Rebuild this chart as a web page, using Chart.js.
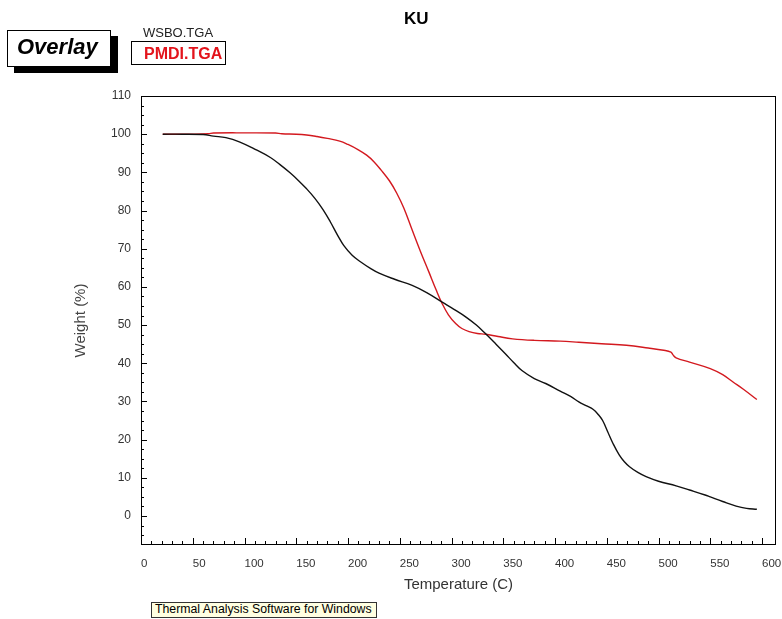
<!DOCTYPE html>
<html>
<head>
<meta charset="utf-8">
<script src="https://cdn.jsdelivr.net/npm/chart.js@4.4.1/dist/chart.umd.min.js"></script>
<style>
  html, body { margin: 0; padding: 0; background: #fff; }
  #wrap { position: relative; width: 782px; height: 619px; overflow: hidden;
          font-family: "Liberation Sans", Arial, sans-serif; }
  #c { position: absolute; left: 0; top: 0; }
  .abs { position: absolute; white-space: nowrap; line-height: 1; }
  #title { left: 404px; top: 10px; font-size: 17px; font-weight: bold; color: #000; }
  #ovBox { left: 7px; top: 30px; width: 104px; height: 37px; box-sizing: border-box;
           border: 1px solid #000; background: #fff; box-shadow: 7px 6px 0 #000; }
  #ovText { left: 17px; top: 36px; font-size: 22px; font-weight: bold; font-style: italic; color: #000; }
  #lgA { left: 143px; top: 25.5px; font-size: 13px; color: #222; }
  #lgBox { left: 131px; top: 41px; width: 95px; height: 24px; box-sizing: border-box;
           border: 1px solid #000; background: #fff; }
  #lgB { left: 144px; top: 46px; font-size: 16px; font-weight: bold; color: #e3141c; }
  #foot { left: 151px; top: 602px; width: 226px; height: 16px; box-sizing: border-box;
          border: 1px solid #333; background: #ffffe1; }
  #footText { left: 155px; top: 602.7px; font-size: 12.3px; color: #000; }
</style>
</head>
<body>
<div id="wrap">
  <canvas id="c" width="782" height="619"></canvas>
  <div class="abs" id="title">KU</div>
  <div class="abs" id="ovBox"></div>
  <div class="abs" id="ovText">Overlay</div>
  <div class="abs" id="lgA">WSBO.TGA</div>
  <div class="abs" id="lgBox"></div>
  <div class="abs" id="lgB">PMDI.TGA</div>
  <div class="abs" id="foot"></div>
  <div class="abs" id="footText">Thermal Analysis Software for Windows</div>
</div>
<script>
// TGA runs: temperature (C) and remaining weight (%)
const wsboTemp = [21, 40, 60, 70, 82, 95, 112, 125, 134, 144, 152, 160, 168, 176, 183, 190, 196, 204, 212, 222,
  230, 245, 262, 276, 291, 302, 314, 324, 333, 343, 352, 360, 368, 380, 391, 405, 415, 423, 430, 437,
  442, 446, 451, 456, 462, 467, 472, 480, 488, 500, 517, 530, 545, 550, 562, 575, 585, 595];
const wsboWeight = [100.0, 100.0, 99.9, 99.5, 99.1, 98.0, 95.8, 93.9, 92.1, 89.9, 87.9, 85.7, 83.2, 80.2, 77.0, 73.5, 70.8, 68.3, 66.6, 64.8,
  63.6, 62.0, 60.4, 58.5, 56.0, 54.2, 52.1, 50.0, 47.7, 45.0, 42.5, 40.2, 38.1, 36.0, 34.7, 32.7, 31.3, 29.9, 28.9, 27.9,
  26.5, 25.0, 22.0, 19.0, 16.0, 14.2, 12.9, 11.4, 10.3, 9.1, 7.9, 6.8, 5.5, 5.0, 3.8, 2.6, 2.0, 1.75];

const pmdiTemp = [21, 50, 65, 70, 100, 130, 136, 150, 160, 170, 180, 192, 200, 210, 218, 225, 232, 240, 247, 254,
  262, 270, 278, 285, 291, 297, 304, 310, 317, 325, 333, 345, 359, 380, 405, 423, 445, 469, 490, 505,
  512, 514, 517, 530, 550, 562, 572, 582, 595];
const pmdiWeight = [100.0, 100.0, 100.1, 100.3, 100.35, 100.3, 100.1, 100.0, 99.8, 99.4, 98.9, 98.2, 97.3, 95.9, 94.5, 92.8, 90.6, 87.8, 84.6, 80.6,
  74.9, 69.3, 64.0, 59.3, 55.6, 52.7, 50.4, 49.1, 48.3, 47.8, 47.6, 47.0, 46.4, 46.0, 45.8, 45.5, 45.1, 44.7, 44.0, 43.4,
  42.9, 42.2, 41.4, 40.3, 38.6, 37.0, 35.1, 33.2, 30.5];

// Labelled tick values
const xTickLabels = [0, 50, 100, 150, 200, 250, 300, 350, 400, 450, 500, 550, 600];
const yTickLabels = [0, 10, 20, 30, 40, 50, 60, 70, 80, 90, 100, 110];

const toPoints = (xs, ys) => xs.map((t, i) => ({ x: t, y: ys[i] }));

// Boxed plot frame with inward major/minor tick marks
const frameTicks = {
  id: 'frameTicks',
  afterDatasetsDraw(chart) {
    const { ctx, chartArea: a, scales: { x, y } } = chart;
    ctx.save();
    ctx.strokeStyle = '#000';
    ctx.lineWidth = 1;
    ctx.beginPath();
    for (let v = 0; v <= 600; v += 10) {
      const px = Math.round(x.getPixelForValue(v)) + 0.5;
      const len = v % 50 === 0 ? 7 : 4;
      ctx.moveTo(px, a.bottom);
      ctx.lineTo(px, a.bottom - len);
    }
    for (let v = -5; v <= 110; v += 2.5) {
      const py = Math.round(y.getPixelForValue(v)) + 0.5;
      const len = v % 10 === 0 ? 6 : 3;
      ctx.moveTo(a.left, py);
      ctx.lineTo(a.left + len, py);
    }
    ctx.stroke();
    ctx.strokeRect(Math.round(a.left) + 0.5, Math.round(a.top) + 0.5,
                   Math.round(a.right - a.left) - 1, Math.round(a.bottom - a.top) - 1);
    ctx.restore();
  }
};

Chart.defaults.font.family = '"Liberation Sans", Arial, sans-serif';

new Chart(document.getElementById('c'), {
  type: 'line',
  data: {
    datasets: [
      {
        label: 'WSBO.TGA',
        data: toPoints(wsboTemp, wsboWeight),
        borderColor: '#111',
        borderWidth: 1.4,
        pointRadius: 0,
        tension: 0.4,
        fill: false
      },
      {
        label: 'PMDI.TGA',
        data: toPoints(pmdiTemp, pmdiWeight),
        borderColor: '#d3191f',
        borderWidth: 1.4,
        pointRadius: 0,
        tension: 0.4,
        fill: false
      }
    ]
  },
  options: {
    responsive: false,
    animation: false,
    events: [],
    layout: { autoPadding: false, padding: { top: 96, right: 6, left: 0, bottom: 0 } },
    plugins: {
      legend: { display: false },
      tooltip: { enabled: false },
      title: { display: false }
    },
    scales: {
      x: {
        type: 'linear',
        min: 0,
        max: 613.5,
        afterFit(scale) {
          scale.height = 74;
          scale.paddingLeft = 0;
          scale.paddingRight = 0;
        },
        afterBuildTicks(scale) { scale.ticks = xTickLabels.map(v => ({ value: v })); },
        grid: { display: false, drawTicks: false },
        border: { display: false },
        ticks: { align: 'start', padding: 12, color: '#333', font: { size: 11.5 }, maxRotation: 0, autoSkip: false },
        title: { display: true, text: 'Temperature (C)', color: '#333', font: { size: 15 },
                 padding: { top: 0, bottom: 25 } }
      },
      y: {
        type: 'linear',
        min: -7.6,
        max: 110,
        afterFit(scale) { scale.width = 141; },
        afterBuildTicks(scale) { scale.ticks = yTickLabels.map(v => ({ value: v })); },
        grid: { display: false, drawTicks: false },
        border: { display: false },
        ticks: { padding: 10, color: '#333', font: { size: 12 }, autoSkip: false },
        title: { display: true, text: 'Weight (%)', color: '#444', font: { size: 15 },
                 padding: { top: 72, bottom: 0 } }
      }
    }
  },
  plugins: [frameTicks]
});
</script>
</body>
</html>
